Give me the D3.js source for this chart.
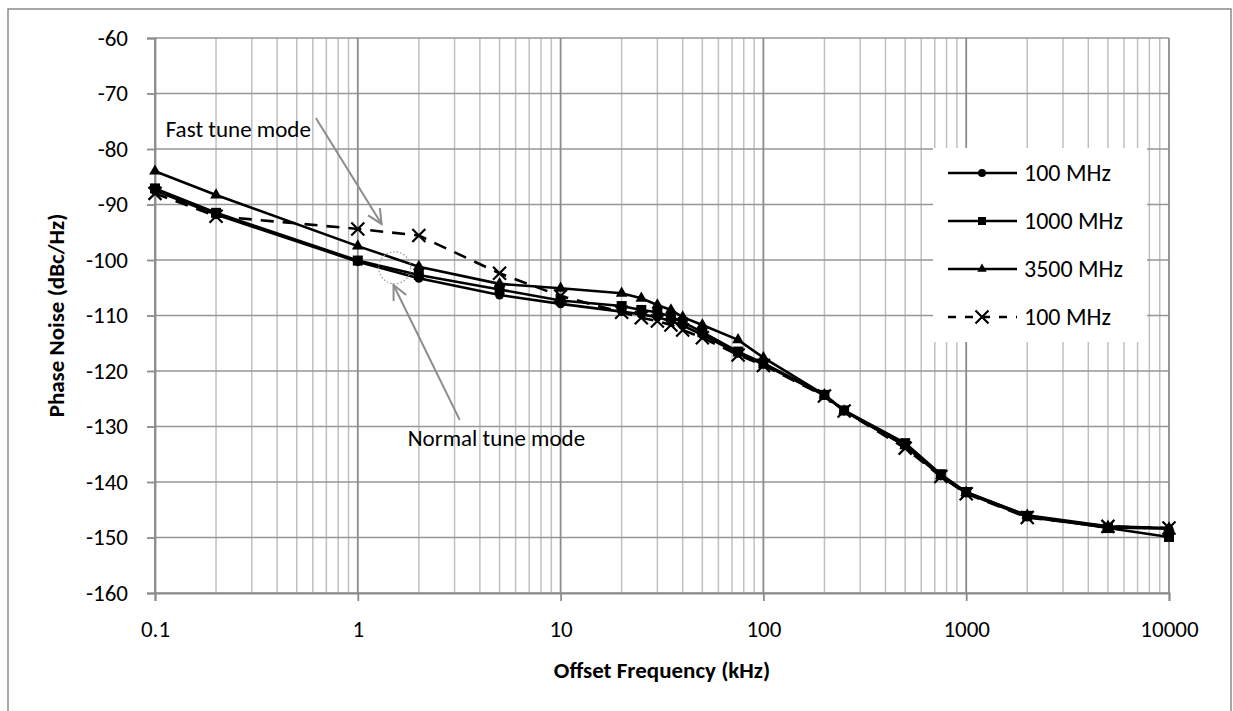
<!DOCTYPE html>
<html><head><meta charset="utf-8">
<script src="https://cdn.jsdelivr.net/npm/d3@7"></script>
<style>
html,body{margin:0;padding:0;background:#fff;}
svg text{font-family:Carlito,Calibri,Lato,"Open Sans",sans-serif;fill:#000;}
</style></head>
<body><svg id="c" width="1233" height="711"></svg>
<script>
// ---- data ----
const freqs = [0.1, 0.2, 1, 2, 5, 10, 20, 25, 30, 35, 40, 50, 75, 100, 200, 250, 500, 750, 1000, 2000, 5000, 10000];
const s100 = [-87.5, -91.8, -100.3, -103.3, -106.3, -107.9, -109.3, -109.8, -110.3, -111.0, -111.8, -113.5, -116.8, -118.8, -124.4, -127.2, -133.4, -138.9, -142.0, -146.3, -148.2, -148.4];
const s1000 = [-87.1, -91.5, -100.1, -102.7, -105.3, -107.3, -108.3, -109.0, -109.4, -110.2, -111.2, -113.0, -116.5, -118.6, -124.3, -127.1, -133.0, -138.6, -141.8, -146.1, -148.3, -149.9];
const s3500 = [-84.0, -88.3, -97.5, -101.2, -104.3, -105.1, -106.0, -106.9, -108.1, -109.0, -110.3, -111.7, -114.4, -117.6, -124.3, -127.2, -133.5, -138.9, -141.9, -146.0, -148.0, -148.3];
const s100fast = [-88.0, -92.1, -94.4, -95.6, -102.4, -106.5, -109.4, -110.4, -111.0, -111.7, -112.6, -114.0, -117.1, -119.0, -124.5, -127.2, -133.9, -139.0, -142.1, -146.4, -148.0, -148.3];
const seriesNames = ["100 MHz", "1000 MHz", "3500 MHz", "100 MHz"];
const seriesMarkers = ["circle", "square", "triangle", "x"];
const seriesDashed = [false, false, false, true];
const yTicks = [-60, -70, -80, -90, -100, -110, -120, -130, -140, -150, -160];
const xTicks = [0.1, 1, 10, 100, 1000, 10000];
const xTickLabels = ["0.1", "1", "10", "100", "1000", "10000"];
const xTitle = "Offset Frequency (kHz)";
const yTitle = "Phase Noise (dBc/Hz)";
const annFast = {text: "Fast tune mode", from: [0.621, -74.4], to: [1.31, -93.5]};
const annNormal = {text: "Normal tune mode", from: [3.18, -128.8], to: [1.5, -104.5], circle: [1.52, -101.4]};

const allSeries = [s100, s1000, s3500, s100fast];

// ---- layout ----
const L = 155, R = 1169, T = 38, B = 593;
const svg = d3.select("#c");
const x = d3.scaleLog().domain([0.1, 10000]).range([L, R]);
const y = d3.scaleLinear().domain([-160, -60]).range([B, T]);

// outer border
svg.append("rect").attr("x", 8).attr("y", 9).attr("width", 1223).attr("height", 720)
  .attr("fill", "#fff").attr("stroke", "#8a8a8a").attr("stroke-width", 1.5);

// grid
const minors = [];
[0.1, 1, 10, 100, 1000].forEach(d => { for (let k = 2; k <= 9; k++) minors.push(d * k); });
const g = svg.append("g");
g.selectAll("line.minor").data(minors).enter().append("line")
  .attr("x1", d => x(d)).attr("x2", d => x(d)).attr("y1", T).attr("y2", B)
  .attr("stroke", "#c0c0c0").attr("stroke-width", 1.5);
g.selectAll("line.hy").data(yTicks).enter().append("line")
  .attr("x1", L).attr("x2", R).attr("y1", d => y(d)).attr("y2", d => y(d))
  .attr("stroke", "#969696").attr("stroke-width", 1.5);
g.selectAll("line.major").data(xTicks).enter().append("line")
  .attr("x1", d => x(d)).attr("x2", d => x(d)).attr("y1", T).attr("y2", B)
  .attr("stroke", "#8c8c8c").attr("stroke-width", 1.8);

// axes
const yAxis = svg.append("g").attr("transform", `translate(${L},0)`)
  .call(d3.axisLeft(y).tickValues(yTicks).tickSize(8).tickPadding(19).tickFormat(d => d));
const xAxis = svg.append("g").attr("transform", `translate(0,${B})`)
  .call(d3.axisBottom(x).tickValues(xTicks).tickSize(8).tickPadding(20).tickFormat((d, i) => xTickLabels[i]));
[yAxis, xAxis].forEach(a => {
  a.select(".domain").attr("stroke", "#8c8c8c").attr("stroke-width", 1.8);
  a.selectAll(".tick line").attr("stroke", "#8c8c8c").attr("stroke-width", 1.8);
  a.selectAll(".tick text").attr("font-size", 23).attr("fill", "#000")
   .style("font-family", "Carlito,Calibri,Lato,sans-serif");
});

// axis titles
svg.append("text").attr("x", (L + R) / 2).attr("y", 678).attr("text-anchor", "middle")
  .attr("font-size", 23).attr("font-weight", "bold").text(xTitle);
svg.append("text").attr("transform", `translate(64,${(T + B) / 2}) rotate(-90)`)
  .attr("text-anchor", "middle").attr("font-size", 23).attr("font-weight", "bold").text(yTitle);

// markers
function marker(sel, type, size) {
  if (type === "circle") sel.append("circle").attr("r", size * 0.5).attr("fill", "#000");
  else if (type === "square") sel.append("rect").attr("x", -size / 2).attr("y", -size / 2).attr("width", size).attr("height", size).attr("fill", "#000");
  else if (type === "triangle") sel.append("path").attr("d", d3.symbol().type(d3.symbolTriangle).size(size * size * 0.6)()).attr("fill", "#000");
  else if (type === "x") {
    const h = size * 0.5;
    sel.append("path").attr("d", `M${-h},${-h}L${h},${h}M${-h},${h}L${h},${-h}`).attr("stroke", "#000").attr("stroke-width", 2.2).attr("fill", "none");
  }
}

const line = d3.line().x(d => x(d[0])).y(d => y(d[1]));
allSeries.forEach((s, i) => {
  const pts = freqs.map((f, j) => [f, s[j]]);
  const sg = svg.append("g");
  sg.append("path").attr("d", line(pts)).attr("fill", "none").attr("stroke", "#000")
    .attr("stroke-width", 2.6).attr("stroke-dasharray", seriesDashed[i] ? "13,9" : null);
  pts.forEach(p => {
    const m = sg.append("g").attr("transform", `translate(${x(p[0])},${y(p[1])})`);
    marker(m, seriesMarkers[i], seriesMarkers[i] === "x" ? 13 : (seriesMarkers[i] === "circle" ? 9 : 10));
  });
});

// annotations
const gray = "#8c8c8c";
function arrow(from, to) {
  const x1 = x(from[0]), y1 = y(from[1]), x2 = x(to[0]), y2 = y(to[1]);
  svg.append("line").attr("x1", x1).attr("y1", y1).attr("x2", x2).attr("y2", y2)
    .attr("stroke", gray).attr("stroke-width", 2);
  const a = Math.atan2(y2 - y1, x2 - x1), len = 16, sp = 0.45;
  svg.append("path").attr("d",
    `M${x2 - len * Math.cos(a - sp)},${y2 - len * Math.sin(a - sp)}L${x2},${y2}L${x2 - len * Math.cos(a + sp)},${y2 - len * Math.sin(a + sp)}`)
    .attr("fill", "none").attr("stroke", gray).attr("stroke-width", 2);
}
arrow(annFast.from, annFast.to);
arrow(annNormal.from, annNormal.to);
svg.append("circle").attr("cx", x(annNormal.circle[0])).attr("cy", y(annNormal.circle[1])).attr("r", 16)
  .attr("fill", "none").attr("stroke", "#999").attr("stroke-width", 1.2).attr("stroke-dasharray", "1.5,2");
svg.append("text").attr("x", x(annFast.from[0]) - 5).attr("y", y(annFast.from[1]) + 19).attr("text-anchor", "end")
  .attr("font-size", 23).text(annFast.text);
svg.append("text").attr("x", x(annNormal.from[0]) - 52).attr("y", y(annNormal.from[1]) + 26)
  .attr("font-size", 23).text(annNormal.text);

// legend
const lg = svg.append("g");
lg.append("rect").attr("x", 933).attr("y", 148).attr("width", 214).attr("height", 194).attr("fill", "#fff");
seriesNames.forEach((n, i) => {
  const yy = 173 + i * 48;
  const row = lg.append("g").attr("transform", `translate(0,${yy})`);
  row.append("line").attr("x1", 948).attr("x2", 1017).attr("y1", 0).attr("y2", 0)
    .attr("stroke", "#000").attr("stroke-width", 2.5).attr("stroke-dasharray", seriesDashed[i] ? "8,9" : null);
  const m = row.append("g").attr("transform", "translate(982,0)");
  marker(m, seriesMarkers[i], seriesMarkers[i] === "x" ? 13 : 8);
  row.append("text").attr("x", 1024).attr("y", 8).attr("font-size", 24).text(n);
});
</script></body></html>
